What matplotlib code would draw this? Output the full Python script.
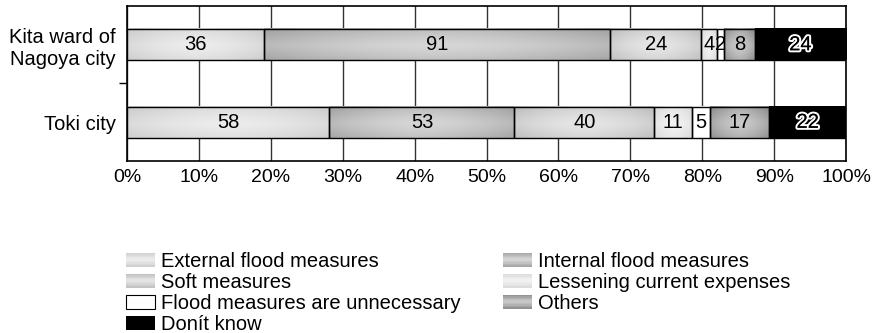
import numpy as np
import matplotlib
matplotlib.use("Agg")
import matplotlib.pyplot as plt
from matplotlib.patches import Rectangle
from matplotlib.legend_handler import HandlerBase
from matplotlib import patheffects as pe
from matplotlib.colors import to_rgb

plt.rcParams['font.family'] = ['Liberation Sans', 'DejaVu Sans']

regions = ["Kita ward of\nNagoya city", "Toki city"]
categories = ["External flood measures", "Internal flood measures", "Soft measures",
              "Lessening current expenses", "Flood measures are unnecessary",
              "Others", "Donít know"]
kita_counts = [36, 91, 24, 4, 2, 8, 24]
toki_counts = [58, 53, 40, 11, 5, 17, 22]
xtick_labels = ["0%", "10%", "20%", "30%", "40%", "50%", "60%", "70%", "80%", "90%", "100%"]

# (edge shade, highlight shade) for each answer category
shades = [("#cccccc", "#ececec"),
          ("#a2a2a2", "#d6d6d6"),
          ("#bdbdbd", "#e6e6e6"),
          ("#d8d8d8", "#f2f2f2"),
          ("#ffffff", "#ffffff"),
          ("#8a8a8a", "#cacaca"),
          ("#000000", "#000000")]


def gradient_image(dark, light, nx=64, ny=32):
    d = np.array(to_rgb(dark))
    l = np.array(to_rgb(light))
    u = np.linspace(0, 1, nx)
    v = np.linspace(0, 1, ny)
    hx = 1 - np.abs(2 * u - 1) ** 1.6
    vy = 1 - np.abs(2 * (v - 0.05) - 1) ** 1.4
    f = np.clip(0.55 * hx[None, :] + 0.45 * vy[:, None], 0, 1)
    return d[None, None, :] + (l - d)[None, None, :] * f[:, :, None]


fig = plt.figure(figsize=(8.76, 3.33), dpi=100)
ax = fig.add_axes([0.145, 0.5165, 0.8208, 0.4655])

data = np.array([kita_counts, toki_counts], dtype=float)
pct = data / data.sum(axis=1, keepdims=True) * 100
ypos = [1, 0]
bar_h = 0.4
label_fs = 14.5

for row, y in enumerate(ypos):
    left = 0.0
    for k in range(len(categories)):
        w = pct[row, k]
        dark, light = shades[k]
        ax.imshow(gradient_image(dark, light), extent=(left, left + w, y - bar_h / 2, y + bar_h / 2),
                  aspect='auto', zorder=2, interpolation='bilinear')
        ax.barh(y, w, left=left, height=bar_h, facecolor='none', edgecolor='black',
                linewidth=1.0, zorder=3)
        cx = left + w / 2
        if k == len(categories) - 1:
            ax.text(cx, y, str(int(data[row, k])), ha='center', va='center', fontsize=label_fs,
                    color='black', zorder=4,
                    path_effects=[pe.withStroke(linewidth=3, foreground='white'), pe.Normal()])
        else:
            ax.text(cx, y, str(int(data[row, k])), ha='center', va='center', fontsize=label_fs,
                    color='black', zorder=4)
        left += w

ax.set_xlim(0, 100)
ax.set_ylim(-0.5, 1.5)
ax.set_xticks(np.arange(0, 101, 10))
ax.set_xticklabels(xtick_labels, fontsize=14)
ax.tick_params(axis='x', length=0, pad=6)
ax.grid(axis='x', color='#333333', linewidth=1.0, zorder=1)
ax.set_axisbelow(True)

ax.set_yticks([0.5])
ax.set_yticklabels([""])
ax.set_yticks(ypos, minor=True)
ax.set_yticklabels(regions, minor=True, fontsize=14.5, ha='right', multialignment='right')
ax.tick_params(axis='y', which='major', length=6, width=1, direction='out')
ax.tick_params(axis='y', which='minor', length=0, pad=8)
for s in ax.spines.values():
    s.set_linewidth(1.2)


class GradientHandler(HandlerBase):
    def __init__(self, dark, light, edge=False):
        super().__init__()
        self.dark, self.light, self.edge = dark, light, edge

    def create_artists(self, legend, orig_handle, xdescent, ydescent, width, height,
                       fontsize, trans):
        arts = []
        n = 10
        d = np.array(to_rgb(self.dark))
        l = np.array(to_rgb(self.light))
        for i in range(n):
            t = (i + 0.5) / n
            f = 1 - abs(2 * t - 1) ** 1.4
            c = d + (l - d) * f
            r = Rectangle((-xdescent, -ydescent + height * (1 - (i + 1) / n)), width, height / n + 0.3,
                          facecolor=c, edgecolor='none', transform=trans)
            arts.append(r)
        if self.edge:
            arts.append(Rectangle((-xdescent, -ydescent), width, height, facecolor='none',
                                  edgecolor='black', linewidth=0.8, transform=trans))
        return arts


handles = [Rectangle((0, 0), 1, 1) for _ in categories]
handler_map = {}
for k, h in enumerate(handles):
    dark, light = shades[k]
    handler_map[h] = GradientHandler(dark, light, edge=(k == 4))

order = [0, 2, 4, 6, 1, 3, 5]
fig.legend([handles[i] for i in order], [categories[i] for i in order], handler_map=handler_map,
           loc='upper left', bbox_to_anchor=(0.1438, 0.243), ncol=2,
           frameon=False, fontsize=14.5, handlelength=1.45, handleheight=0.65,
           handletextpad=0.3, labelspacing=0.1, columnspacing=2.1, borderaxespad=0,
           borderpad=0)

fig.savefig("out.png", dpi=100)
